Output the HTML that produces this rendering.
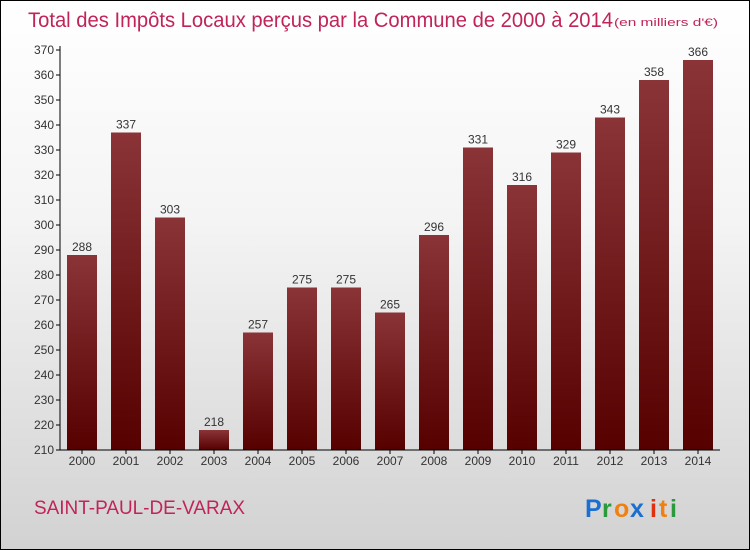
<!DOCTYPE html>
<html><head><meta charset="utf-8"><style>
body{margin:0;width:750px;height:550px;overflow:hidden}
#c{position:absolute;left:0;top:0;width:748px;height:548px;border:1px solid #000;background:linear-gradient(#ffffff,#f4f4f4 40%,#d2d2d2)}
</style></head><body>
<div id="c">
<svg id="s" width="750" height="550" style="position:absolute;left:-1px;top:-1px" font-family="'Liberation Sans',sans-serif">
<defs><linearGradient id="g" x1="0" y1="0" x2="0" y2="1"><stop offset="0" stop-color="#8a3438"/><stop offset="1" stop-color="#560000"/></linearGradient></defs>
<text x="28" y="27" font-size="21" fill="#c0245a" textLength="585" lengthAdjust="spacingAndGlyphs">Total des Impôts Locaux perçus par la Commune de 2000 à 2014</text>
<text x="614" y="26" font-size="11" fill="#c0245a" textLength="104" lengthAdjust="spacingAndGlyphs">(en milliers d'€)</text>
<text x="34" y="514" font-size="19" fill="#c0245a" textLength="211" lengthAdjust="spacingAndGlyphs">SAINT-PAUL-DE-VARAX</text>
<g font-size="25" font-weight="bold">
<text x="585" y="517" fill="#1a6fd0">P</text><text x="602" y="517" fill="#2a9a3a">r</text><text x="614" y="517" fill="#f08010">o</text><text x="630" y="517" fill="#1a6fd0">x</text><text x="650" y="517" fill="#e03010">i</text><text x="659" y="517" fill="#f08010">t</text><text x="670" y="517" fill="#2a9a3a">i</text></g>
</svg></div>
<script>
const years=["2000","2001","2002","2003","2004","2005","2006","2007","2008","2009","2010","2011","2012","2013","2014"];
const values=[288,337,303,218,257,275,275,265,296,331,316,329,343,358,366];
const yTicks=[210,220,230,240,250,260,270,280,290,300,310,320,330,340,350,360,370];
const s=document.getElementById('s'),NS='http://www.w3.org/2000/svg';
const y=v=>450-(v-210)*2.5, x=i=>82+i*44;
function mk(t,a,txt){const e=document.createElementNS(NS,t);for(const k in a)e.setAttribute(k,a[k]);if(txt!==undefined)e.textContent=txt;s.appendChild(e);return e;}
yTicks.forEach(t=>{
const l=mk('line',{x1:56,x2:60,y1:y(t),y2:y(t),stroke:'#000'});


const tx=mk('text',{x:54,y:y(t)+4,'font-size':12,'text-anchor':'end',fill:'#333'},t);


});
years.forEach((yr,i)=>{
const b=mk('rect',{x:x(i)-15,y:y(values[i]),width:30,height:450-y(values[i]),fill:'url(#g)'});


const v=mk('text',{x:x(i),y:y(values[i])-4,'font-size':12,'text-anchor':'middle',fill:'#333'},values[i]);


const tk=mk('line',{x1:x(i),x2:x(i),y1:450,y2:454,stroke:'#000'});


const xl=mk('text',{x:x(i),y:465,'font-size':12,'text-anchor':'middle',fill:'#333'},yr);


});
const ya=mk('line',{x1:60,x2:60,y1:y(370)-4,y2:450,stroke:'#000'});


const xa=mk('line',{x1:60,x2:720,y1:450,y2:450,stroke:'#000'});


</script>
</body></html>
